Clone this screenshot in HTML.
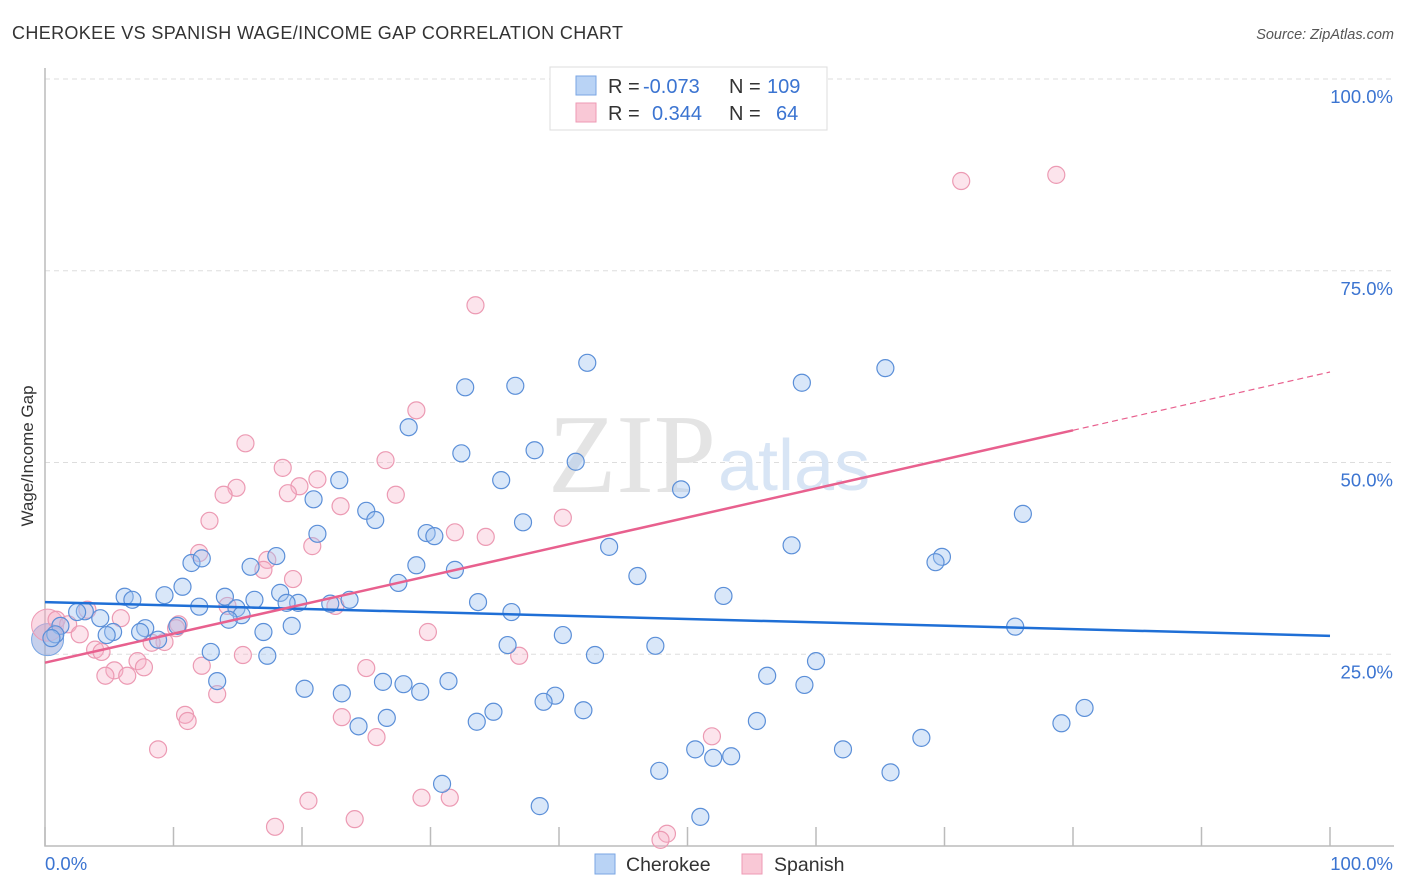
<!DOCTYPE html>
<html><head><meta charset="utf-8"><style>
body{margin:0;background:#fff;font-family:"Liberation Sans",sans-serif}
svg{display:block}
</style></head><body>
<svg id="chart" width="1406" height="892" xmlns="http://www.w3.org/2000/svg">
<text x="12" y="39" font-size="18" fill="#333" textLength="611">CHEROKEE VS SPANISH WAGE/INCOME GAP CORRELATION CHART</text>
<text x="1394" y="39" font-size="14.5" fill="#555" font-style="italic" text-anchor="end">Source: ZipAtlas.com</text>
<g id="grid"></g>
<text x="716" y="492" font-size="112" fill="#e4e4e4" font-family="Liberation Serif" text-anchor="end">ZIP</text>
<text x="718" y="490" font-size="72" fill="#d8e5f5">atlas</text>
<g id="pts"></g>
<g id="lines"></g>
<text x="33" y="456" font-size="17" fill="#333" transform="rotate(-90 33 456)" text-anchor="middle">Wage/Income Gap</text>
<text x="45" y="870" font-size="18.5" fill="#3b74d1">0.0%</text>
<text x="1393" y="870" font-size="18.5" fill="#3b74d1" text-anchor="end">100.0%</text>
<g>
<rect x="550" y="67" width="277" height="63" fill="#fff" stroke="#ddd"/>
<rect x="576" y="76" width="20" height="19" fill="#b9d3f5" stroke="#7aa6e3"/>
<rect x="576" y="103" width="20" height="19" fill="#f9c8d6" stroke="#ee9ab4"/>
<text x="608" y="93" font-size="20" fill="#333">R = <tspan fill="#3b74d1" x="643">-0.073</tspan></text>
<text x="729" y="93" font-size="20" fill="#333">N = <tspan fill="#3b74d1" x="767">109</tspan></text>
<text x="608" y="120" font-size="20" fill="#333">R = <tspan fill="#3b74d1" x="652">0.344</tspan></text>
<text x="729" y="120" font-size="20" fill="#333">N = <tspan fill="#3b74d1" x="776">64</tspan></text>
</g>
<g>
<rect x="595" y="854" width="20" height="20" fill="#b9d3f5" stroke="#7aa6e3"/>
<text x="626" y="871" font-size="19.5" fill="#333">Cherokee</text>
<rect x="742" y="854" width="20" height="20" fill="#f9c8d6" stroke="#ee9ab4"/>
<text x="774" y="871" font-size="19.5" fill="#333">Spanish</text>
</g>
</svg>
<script>
const yTicks=[25,50,75,100];
const yTickLabels=["25.0%","50.0%","75.0%","100.0%"];
const xTicks=[0,10,20,30,40,50,60,70,80,90,100];
const cherokeeX=[42.2,32.7,36.6,58.9,65.4,28.3,32.4,38.1,41.3,22.9,35.5,49.5,20.9,25.0,25.7,37.2,21.2,29.7,30.3,76.1,43.9,58.1,18.0,11.4,12.2,16.0,28.9,31.9,69.8,69.3,46.1,27.5,10.7,18.3,9.3,6.2,6.8,23.7,19.7,16.3,14.0,12.0,14.9,33.7,52.8,36.3,22.2,18.8,15.3,14.3,19.2,17.0,10.3,7.8,7.4,8.8,5.3,4.8,4.3,3.1,2.5,1.2,0.8,0.5,40.3,12.9,17.3,47.5,42.8,36.0,75.5,60.0,56.2,13.4,20.2,23.1,26.3,27.9,29.2,31.4,59.1,39.7,38.8,41.9,34.9,33.6,26.6,24.4,55.4,80.9,79.1,68.2,62.1,50.6,52.0,53.4,47.8,65.8,30.9,38.5,51.0];
const cherokeeY=[63.0,59.8,60.0,60.4,62.3,54.6,51.2,51.6,50.1,47.7,47.7,46.5,45.2,43.7,42.5,42.2,40.7,40.8,40.4,43.3,39.0,39.2,37.8,36.9,37.5,36.4,36.6,36.0,37.7,37.0,35.2,34.3,33.8,33.0,32.7,32.5,32.1,32.1,31.7,32.1,32.5,31.2,31.0,31.8,32.6,30.5,31.6,31.7,30.1,29.5,28.7,27.9,28.7,28.4,27.9,26.9,27.9,27.5,29.7,30.6,30.5,28.7,27.6,27.1,27.5,25.3,24.8,26.1,24.9,26.2,28.6,24.1,22.2,21.5,20.5,19.9,21.4,21.1,20.1,21.5,21.0,19.6,18.8,17.7,17.5,16.2,16.7,15.6,16.3,18.0,16.0,14.1,12.6,12.6,11.5,11.7,9.8,9.6,8.1,5.2,3.8];
const spanishX=[78.7,71.3,33.5,28.9,15.6,26.5,18.5,21.2,19.8,14.9,18.9,13.9,23.0,27.3,40.3,12.8,31.9,34.3,20.8,12.0,17.3,17.0,19.3,14.2,22.6,0.9,1.8,3.3,5.9,10.4,10.2,9.3,8.3,2.7,3.9,4.4,7.2,7.7,5.4,4.7,6.4,29.8,36.9,15.4,12.2,25.0,10.9,11.1,13.4,8.8,23.1,25.8,51.9,20.5,29.3,31.5,24.1,17.9,48.4,47.9];
const spanishY=[87.5,86.7,70.5,56.8,52.5,50.3,49.3,47.8,46.9,46.7,46.0,45.8,44.3,45.8,42.8,42.4,40.9,40.3,39.1,38.2,37.3,36.0,34.8,31.3,31.3,29.5,28.9,30.8,29.7,28.9,28.4,26.6,26.5,27.6,25.6,25.3,24.1,23.3,22.9,22.2,22.2,27.9,24.8,24.9,23.5,23.2,17.1,16.3,19.8,12.6,16.8,14.2,14.3,5.9,6.3,6.3,3.5,2.5,1.6,0.8];
const bigX=[0.2,0.2];const bigY=[26.9,28.8];
const cherokeeTrend=[31.8,27.4];
const spanishTrend=[23.9,54.2,61.8];const spanishTrendX=[0,80,100];
const X0=45,X1=1330,Y0=846,Y100=79;
const sx=v=>X0+(X1-X0)*v/100, sy=v=>Y0-(Y0-Y100)*v/100;
const NS="http://www.w3.org/2000/svg";
function mk(tag,at,parent){const e=document.createElementNS(NS,tag);for(const k in at)e.setAttribute(k,at[k]);parent.appendChild(e);return e;}
const grid=document.getElementById('grid');
yTicks.forEach((t,i)=>{
 const l=mk('line',{x1:X0,x2:1394,y1:sy(t),y2:sy(t),stroke:'#ddd','stroke-dasharray':'5,4'},grid);
 
 
 const tx=mk('text',{x:1393,y:sy(t)+24,'font-size':18.5,fill:'#3b74d1','text-anchor':'end'},grid);
 tx.textContent=yTickLabels[i];
 
 
});
const ax=mk('path',{d:`M${X0} 68V${Y0}H1394`,stroke:'#bbb',fill:'none','stroke-width':1.5},grid);


xTicks.forEach(t=>{const l=mk('line',{x1:sx(t),x2:sx(t),y1:Y0,y2:Y0-19,stroke:'#bbb','stroke-width':1.5},grid);
 
 });
const pts=document.getElementById('pts');
bigX.forEach((x,i)=>{const c=mk('circle',{cx:sx(x),cy:sy(bigY[i]),r:16,fill:i?'rgba(244,170,195,0.45)':'rgba(150,170,220,0.55)',stroke:i?'#ee9ab4':'#7aa6e3'},pts);
 
 });
spanishX.forEach((x,i)=>{const c=mk('circle',{cx:sx(x),cy:sy(spanishY[i]),r:8.5,fill:'rgba(246,178,200,0.35)',stroke:'#ec9ab3','stroke-width':1.2},pts);
 
 });
cherokeeX.forEach((x,i)=>{const c=mk('circle',{cx:sx(x),cy:sy(cherokeeY[i]),r:8.5,fill:'rgba(160,196,240,0.4)',stroke:'#5b8fd8','stroke-width':1.2},pts);
 
 });
const lines=document.getElementById('lines');
const bl=mk('line',{x1:sx(0),y1:sy(cherokeeTrend[0]),x2:sx(100),y2:sy(cherokeeTrend[1]),stroke:'#1f6fd6','stroke-width':2.5},lines);


const pl=mk('line',{x1:sx(spanishTrendX[0]),y1:sy(spanishTrend[0]),x2:sx(spanishTrendX[1]),y2:sy(spanishTrend[1]),stroke:'#e8608e','stroke-width':2.5},lines);


const pd=mk('line',{x1:sx(spanishTrendX[1]),y1:sy(spanishTrend[1]),x2:sx(spanishTrendX[2]),y2:sy(spanishTrend[2]),stroke:'#e8608e','stroke-width':1.2,'stroke-dasharray':'6,4'},lines);


</script>
</body></html>
